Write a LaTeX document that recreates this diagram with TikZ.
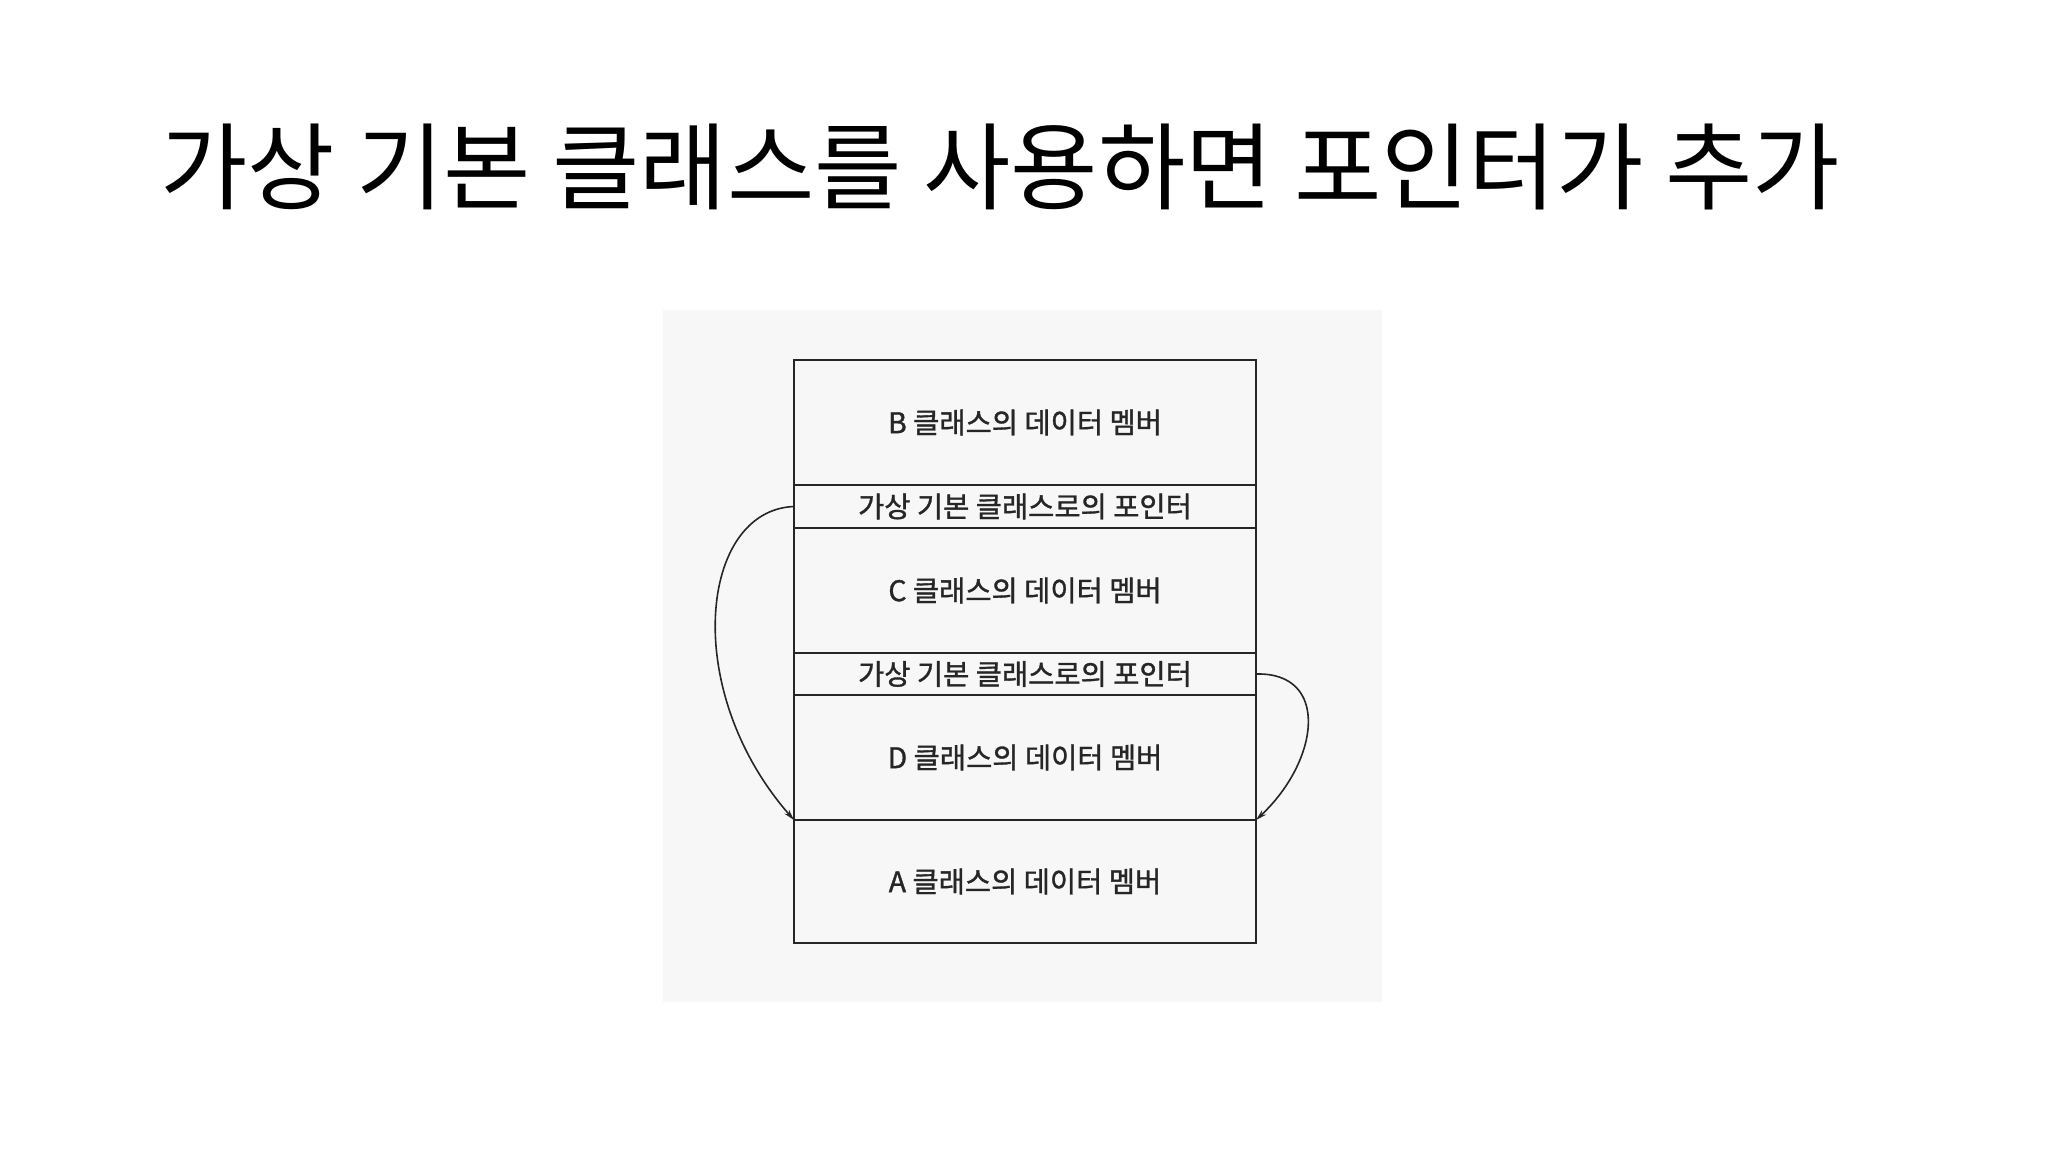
\documentclass[tikz,border=0pt]{standalone}
\usepackage{fontspec}
\newfontfamily\kr{Noto Sans CJK KR}
\newfontfamily\krb[FakeBold=1.2]{Noto Sans CJK KR}
\usetikzlibrary{arrows.meta}
\begin{document}
\begin{tikzpicture}[x=1pt,y=-1pt,
  cell/.style={draw=black!85,line width=2pt,minimum width=462pt,inner sep=0pt,outer sep=0pt,font=\krb\fontsize{28.5}{32}\selectfont,text=black!85},
  ptr/.style={draw=black!85,line width=1.6pt,-{Stealth[length=11pt,width=6pt]}}]
\useasboundingbox (0,0) rectangle (2048,1152);
\fill[white] (0,0) rectangle (2048,1152);
\fill[black!3] (663,310) rectangle (1382,1002);
\node[font=\kr\fontsize{95}{100}\selectfont] (title) at (1000,167) {가상 기본 클래스를 사용하면 포인터가 추가};
\node[cell,minimum height=125pt,anchor=north] (b) at (1025,360) {B 클래스의 데이터 멤버};
\node[cell,minimum height=43pt,anchor=north] (pb) at (b.south) {가상 기본 클래스로의 포인터};
\node[cell,minimum height=125pt,anchor=north] (c) at (pb.south) {C 클래스의 데이터 멤버};
\node[cell,minimum height=42pt,anchor=north] (pc) at (c.south) {가상 기본 클래스로의 포인터};
\node[cell,minimum height=125pt,anchor=north] (d) at (pc.south) {D 클래스의 데이터 멤버};
\node[cell,minimum height=123pt,anchor=north] (a) at (d.south) {A 클래스의 데이터 멤버};
\draw[ptr] (pb.west) .. controls (700,510) and (680,690) .. (a.north west);
\draw[ptr] (pc.east) .. controls (1330,672) and (1320,760) .. (a.north east);
\end{tikzpicture}
\end{document}
